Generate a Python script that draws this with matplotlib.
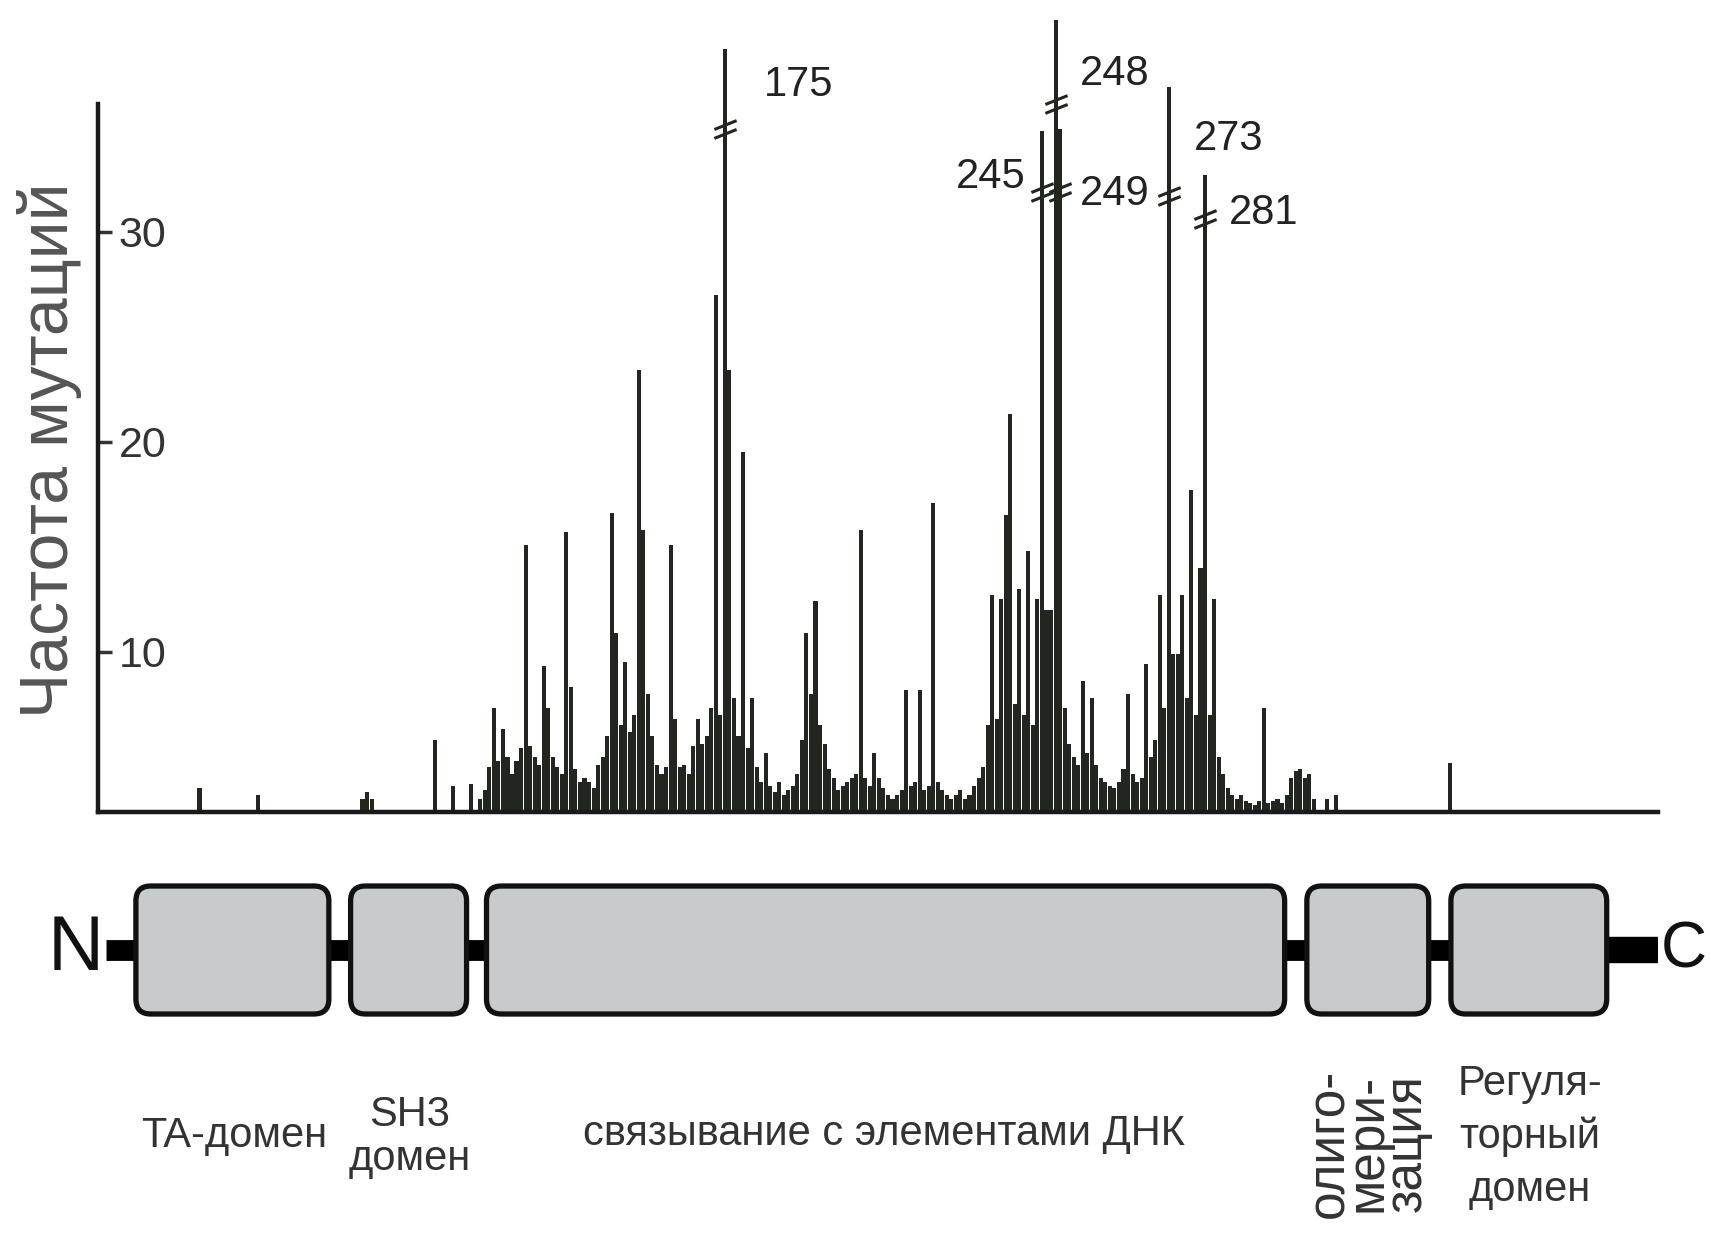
import numpy as np
import matplotlib.pyplot as plt
from matplotlib.patches import FancyBboxPatch
from matplotlib.path import Path

FONT = ['Liberation Sans', 'DejaVu Sans']
BAR = '#222520'

# mutation frequency per residue, residues 31..380
residues = np.arange(31, 381)
freq = [
    0, 0, 0, 0, 0, 0, 0, 0, 0, 0,                       # 31-40
    0, 0, 0, 0, 0, 0, 0, 0, 0, 0,                       # 41-50
    0, 0, 0, 0, 0, 0, 0, 0, 3.5, 0,                     # 51-60
    0, 0, 0, 0, 0, 0, 0, 0, 0, 0,                       # 61-70
    0, 3.2, 0, 0, 0, 0, 0, 0, 0, 0,                     # 71-80
    0, 0, 0, 0, 0, 0, 0, 0, 0, 0,                       # 81-90
    0, 0, 0, 0, 3.0, 3.3, 3.0, 0, 0, 0,                 # 91-100
    0, 0, 0, 0, 0, 0, 0, 0, 0, 0,                       # 101-110
    5.8, 0, 0, 0, 3.6, 0, 0, 0, 3.7, 0,                 # 111-120
    3.0, 3.4, 4.5, 7.3, 4.8, 6.3, 5.0, 4.2, 4.8, 5.4,   # 121-130
    15.1, 5.5, 5.0, 4.6, 9.3, 7.3, 5.0, 4.5, 4.2, 15.7, # 131-140
    8.3, 4.4, 3.8, 4.0, 3.8, 3.5, 4.6, 5.0, 6.0, 16.6,  # 141-150
    10.9, 6.5, 9.5, 6.2, 7.0, 23.4, 15.8, 8.0, 6.0, 4.6,  # 151-160
    4.2, 4.5, 15.1, 6.8, 4.5, 4.6, 4.2, 5.5, 6.8, 5.6,  # 161-170
    6.0, 7.3, 27.0, 7.0, 38.7, 23.4, 7.8, 6.0, 19.5, 5.4,  # 171-180
    7.8, 4.5, 3.8, 5.2, 3.6, 3.3, 3.8, 3.2, 3.4, 3.6,   # 181-190
    4.2, 5.8, 10.9, 8.0, 12.4, 6.5, 5.6, 4.4, 4.0, 3.4, # 191-200
    3.6, 3.8, 4.0, 4.2, 15.8, 4.0, 3.6, 5.2, 4.0, 3.5,  # 201-210
    3.2, 3.0, 3.2, 3.4, 8.2, 3.6, 3.8, 8.2, 3.4, 3.6,   # 211-220
    17.1, 3.8, 3.4, 3.2, 3.0, 3.2, 3.4, 3.0, 3.2, 3.6,  # 221-230
    4.0, 4.5, 6.5, 12.7, 6.8, 12.5, 16.5, 21.3, 7.5, 13.0,  # 231-240
    7.0, 14.8, 6.5, 12.5, 34.8, 12.0, 12.0, 40.1, 34.9, 7.3,  # 241-250
    5.6, 5.0, 4.6, 8.6, 5.2, 7.8, 4.6, 4.0, 3.8, 3.6,   # 251-260
    3.5, 3.8, 4.4, 8.0, 4.2, 3.8, 4.0, 9.4, 5.0, 5.8,   # 261-270
    12.7, 7.3, 36.9, 9.9, 9.9, 12.7, 7.8, 17.7, 7.0, 14.0,  # 271-280
    32.7, 7.0, 12.5, 5.0, 4.2, 3.5, 3.2, 3.0, 3.2, 2.9, # 281-290
    2.8, 2.7, 2.9, 7.3, 2.8, 2.9, 3.0, 2.8, 3.2, 4.0,   # 291-300
    4.3, 4.4, 4.0, 4.2, 3.0, 0, 0, 3.0, 0, 3.2,         # 301-310
    0, 0, 0, 0, 0, 0, 0, 0, 0, 0,                       # 311-320
    0, 0, 0, 0, 0, 0, 0, 0, 0, 0,                       # 321-330
    0, 0, 0, 0, 4.7, 0, 0, 0, 0, 0,                     # 331-340
    0, 0, 0, 0, 0, 0, 0, 0, 0, 0,                       # 341-350
    0, 0, 0, 0, 0, 0, 0, 0, 0, 0,                       # 351-360
    0, 0, 0, 0, 0, 0, 0, 0, 0, 0,                       # 361-370
    0, 0, 0, 0, 0, 0, 0, 0, 0, 0,                       # 371-380
]

ytick_vals = [10, 20, 30]

# hotspots with axis breaks
hot_res = [175, 245, 248, 249, 273, 281]
hot_break = [34.9, 31.9, 36.1, 31.9, 31.7, 30.6]
hot_label_x = [183.5, 241.3, 253.3, 253.3, 278.6, 286.3]
hot_label_y = [37.0, 32.6, 37.5, 31.8, 34.4, 30.9]
hot_label_ha = ['left', 'right', 'left', 'left', 'left', 'left']

# protein domains (same x units as the histogram)
dom_names = ['TA-домен', 'SH3\nдомен', 'связывание с элементами ДНК',
             'олиго-\nмери-\nзация', 'Регуля-\nторный\nдомен']
dom_start = [45.0, 92.4, 122.4, 303.5, 335.3]
dom_end = [87.6, 118.0, 298.6, 330.4, 369.7]
dom_label_x = [66.8, 105.4, 210.2, 317.1, 352.8]
dom_label_y = [1136, 1137, 1134, 1143, 1137]
dom_label_rot = [0, 0, 0, 90, 0]
dom_label_size = [30, 30, 30, 37, 30]
dom_label_spacing = [1.0, 1.15, 1.0, 0.72, 1.4]
chain_start, chain_end = 38.3, 381.0

fig = plt.figure(figsize=(17.1, 12.41), dpi=100)

ax = fig.add_axes([98 / 1710, 1 - 812 / 1241, 1560 / 1710, 812 / 1241])
ax.bar(residues, freq, width=0.9, color=BAR, linewidth=0)
ax.set_xlim(36.6, 381.0)
ax.set_ylim(2.37, 41.03)
for s in ['top', 'right']:
    ax.spines[s].set_visible(False)
for s in ['left', 'bottom']:
    ax.spines[s].set_linewidth(3.2)
    ax.spines[s].set_color('#1a1a1a')
    ax.spines[s].set_zorder(5)
ax.spines['left'].set_bounds(2.37, 36.1)
ax.set_xticks([])
ax.set_yticks(ytick_vals)
ax.set_yticklabels([str(v) for v in ytick_vals])
ax.tick_params(axis='y', direction='in', length=10, width=2.5, color='#333',
               pad=-15, labelsize=31, labelcolor='#333')
for lab in ax.get_yticklabels():
    lab.set_ha('left')
    lab.set_family(FONT)

brk = Path([(-0.5, -0.4), (0.5, 0.0), (-0.5, 0.0), (0.5, 0.4)],
           [Path.MOVETO, Path.LINETO, Path.MOVETO, Path.LINETO])
ax.plot(hot_res, hot_break, linestyle='none', marker=brk, markersize=16,
        markeredgewidth=2.2, color=BAR, zorder=4)
for lx, ly, r, ha in zip(hot_label_x, hot_label_y, hot_res, hot_label_ha):
    ax.text(lx, ly, str(r), ha=ha, va='center', fontsize=30,
            family=FONT, color='#222')

fig.text(49 / 1710, 1 - 450 / 1241, 'Частота мутаций', rotation=90,
         ha='center', va='center', fontsize=49, color='#555', family=FONT)

# domain diagram
ax2 = fig.add_axes([0, 0, 1, 1 - 840 / 1241])
ax2.set_xlim(15.0, 392.5)
ax2.set_ylim(1241, 840)
ax2.axis('off')
ax2.plot([chain_start, dom_end[-1]], [950, 950], color='k', lw=15,
         solid_capstyle='butt', zorder=1)
ax2.plot([dom_end[-1], chain_end], [950, 950], color='k', lw=19,
         solid_capstyle='butt', zorder=1)
for s, e in zip(dom_start, dom_end):
    ax2.add_patch(FancyBboxPatch((s, 886), e - s, 128,
                                 boxstyle='round,pad=0,rounding_size=3.3',
                                 mutation_aspect=4.53, fc='#c9cacc',
                                 ec='#111', lw=3.8, zorder=2))
ax2.text(31.6, 950, 'N', ha='center', va='center', fontsize=56,
         family=FONT, color='#111')
ax2.text(386.8, 950, 'C', ha='center', va='center', fontsize=46,
         family=FONT, color='#111')
for name, x, y, rot, fs, ls in zip(dom_names, dom_label_x, dom_label_y,
                                   dom_label_rot, dom_label_size,
                                   dom_label_spacing):
    ax2.text(x, y, name, ha='center', va='center', rotation=rot,
             fontsize=fs, linespacing=ls, family=FONT, color='#333')

fig.savefig('out.png', dpi=100)
